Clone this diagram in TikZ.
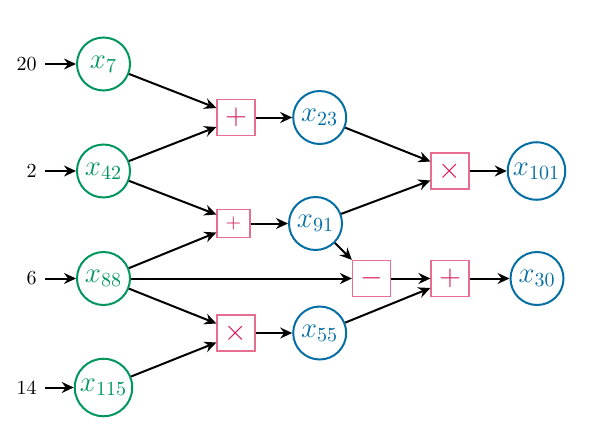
\documentclass[tikz,border=0pt]{standalone}
\usetikzlibrary{arrows.meta}
\definecolor{ngreen}{RGB}{0,150,94}
\definecolor{nblue}{RGB}{5,110,165}
\definecolor{opred}{RGB}{215,20,90}
\definecolor{opborder}{RGB}{232,110,145}
\begin{document}
\begin{tikzpicture}[x=0.5pt,y=-0.5pt,
  innode/.style={circle,draw=ngreen,text=ngreen,line width=1pt,inner sep=1.5pt,minimum size=26.5pt,font=\Large},
  outnode/.style={circle,draw=nblue,text=nblue,line width=1pt,inner sep=1.5pt,minimum size=26.5pt,font=\Large},
  opbox/.style={rectangle,draw=opborder,text=opred,line width=0.6pt,inner sep=0pt,minimum width=19pt,minimum height=18pt,font=\Large},
  opsmall/.style={opbox,minimum width=16.5pt,minimum height=14pt,font=\normalsize},
  inlabel/.style={anchor=east,inner sep=4pt},
  conn/.style={-{Stealth[length=6pt,width=5.5pt,inset=2pt]},line width=1pt},
]
\useasboundingbox (0,0) rectangle (598,433);
% inputs
\node[innode] (c7)   at (103.5,64)    {$x_{7}$};
\node[innode] (c42)  at (103.5,171)   {$x_{42}$};
\node[innode] (c88)  at (103.5,278.5) {$x_{88}$};
\node[innode] (c115) at (103.5,387.5) {$x_{115}$};
\node[inlabel] (l7)   at (45,64)    {20};
\node[inlabel] (l42)  at (45,171)   {2};
\node[inlabel] (l88)  at (45,278.5) {6};
\node[inlabel] (l115) at (45,387.5) {14};
% operations
\node[opbox]   (p1) at (236,117.5) {$+$};
\node[opsmall] (p2) at (233.5,223.5) {$+$};
\node[opbox]   (t1) at (236,333)   {$\times$};
\node[opbox]   (mn) at (371.5,278.5) {$-$};
\node[opbox]   (t2) at (450,171)   {$\times$};
\node[opbox]   (p3) at (450,278.5) {$+$};
% outputs
\node[outnode] (x23)  at (319.7,117.5) {$x_{23}$};
\node[outnode] (x91)  at (315.5,223.5) {$x_{91}$};
\node[outnode] (x55)  at (319.7,333)   {$x_{55}$};
\node[outnode] (x101) at (536.5,171)   {$x_{101}$};
\node[outnode] (x30)  at (537,278.5)   {$x_{30}$};
% connectors
\draw[conn] (l7) -- (c7);
\draw[conn] (l42) -- (c42);
\draw[conn] (l88) -- (c88);
\draw[conn] (l115) -- (c115);
\draw[conn] (c7) -- ([yshift=4.75pt]p1.west);
\draw[conn] (c42) -- ([yshift=-4.75pt]p1.west);
\draw[conn] (c42) -- ([yshift=4.5pt]p2.west);
\draw[conn] (c88) -- ([yshift=-4.5pt]p2.west);
\draw[conn] (c88) -- ([yshift=4.75pt]t1.west);
\draw[conn] (c115) -- ([yshift=-4.75pt]t1.west);
\draw[conn] (c88) -- (mn);
\draw[conn] (p1) -- (x23);
\draw[conn] (p2) -- (x91);
\draw[conn] (t1) -- (x55);
\draw[conn] (x23) -- ([yshift=4.75pt]t2.west);
\draw[conn] (x91) -- ([yshift=-4.75pt]t2.west);
\draw[conn] (x91) -- (mn.north west);
\draw[conn] (mn) -- (p3);
\draw[conn] (x55) -- ([yshift=-4.75pt]p3.west);
\draw[conn] (t2) -- (x101);
\draw[conn] (p3) -- (x30);
\end{tikzpicture}
\end{document}
